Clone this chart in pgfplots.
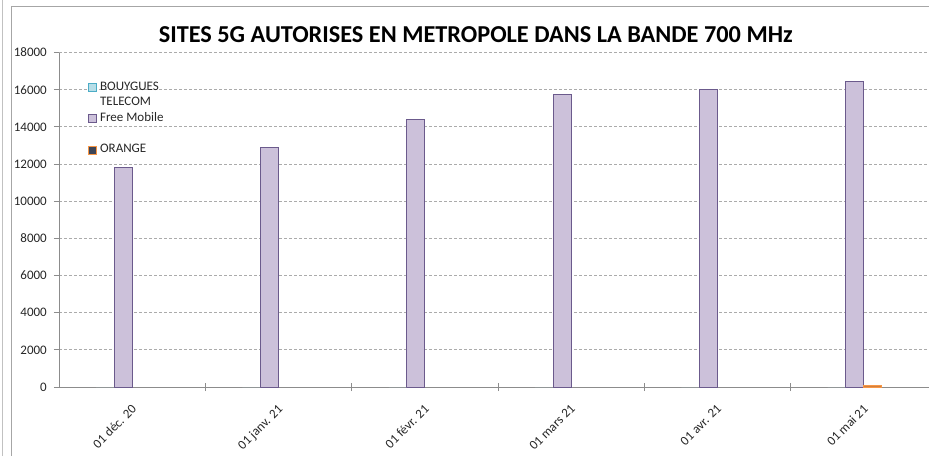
\documentclass[border=0pt]{standalone}
\usepackage{fontspec}
\setmainfont{Carlito}
\usepackage{pgfplots}
\pgfplotsset{compat=1.18}

\definecolor{freefill}{HTML}{CCC1DA}
\definecolor{freeedge}{HTML}{6B5A8C}
\definecolor{bygfill}{HTML}{B7DEE8}
\definecolor{bygedge}{HTML}{4BACC6}
\definecolor{orgfill}{HTML}{3D4556}
\definecolor{orgedge}{HTML}{F79646}
\definecolor{axisgray}{HTML}{8C8C8C}
\definecolor{gridgray}{HTML}{ABABAB}
\definecolor{framegray}{HTML}{A6A6A6}
\definecolor{labelgray}{HTML}{262626}

\pgfplotsset{
  sq legend/.style={legend image code/.code={\draw[##1] (0pt,-4pt) rectangle (8pt,4pt);}},
}

\begin{document}
\begin{tikzpicture}
\begin{axis}[
  scale only axis,
  width=870pt, height=334.5pt,
  xmin=-0.5, xmax=5.446,
  ymin=0, ymax=18000,
  axis x line*=bottom, axis y line*=left,
  axis line style={axisgray, line width=0.8pt},
  ytick={0,2000,...,18000},
  scaled y ticks=false,
  ymajorgrids,
  major grid style={gridgray, dash pattern=on 3pt off 2pt, line width=0.7pt},
  tick align=outside,
  major tick length=5pt,
  ytick style={axisgray, line width=0.8pt},
  xtick={0,...,5},
  xticklabels={01 déc. 20, 01 janv. 21, 01 févr. 21, 01 mars 21, 01 avr. 21, 01 mai 21},
  xtick style={draw=none},
  extra x ticks={0.5,1.5,2.5,3.5,4.5},
  extra x tick labels={},
  extra x tick style={xtick style={draw=axisgray, line width=0.8pt}, major tick length=8pt, tick align=center},
  /pgf/number format/1000 sep={},
  /pgf/number format/assume math mode=true,
  yticklabel style={font=\fontsize{13}{15}\selectfont, text=labelgray, anchor=east, inner sep=0pt, xshift=-7pt},
  xticklabel style={font=\fontsize{13}{15}\selectfont, text=labelgray, rotate=45, anchor=north east, inner sep=1pt, xshift=-8pt, yshift=-6pt},
  title={SITES 5G AUTORISES EN METROPOLE DANS LA BANDE 700 MHz},
  title style={at={(0.479,1.0105)}, anchor=base, font=\bfseries\fontsize{24.3}{27}\selectfont},
  sq legend,
  legend cell align=left,
  legend style={at={(0.0335,0.915)}, anchor=north west, draw=none, fill=none,
    font=\fontsize{13}{15}\selectfont, text=labelgray, inner sep=0pt,
    row sep=3.7pt, column sep=3pt,
    nodes={inner sep=0pt, text height=9pt, text depth=3pt}},
]
\addlegendimage{sq legend, fill=bygfill, draw=bygedge, line width=0.8pt}
\addlegendentry{BOUYGUES}
\addlegendimage{empty legend}
\addlegendentry{TELECOM}

\addplot[ybar, sq legend, bar width=18pt, bar shift=-9pt, fill=freefill, draw=freeedge, line width=0.8pt]
  coordinates {(0,11800) (1,12900) (2,14400) (3,15750) (4,16000) (5,16450)};
\addlegendentry{Free Mobile}

\addlegendimage{empty legend}
\addlegendentry{\mbox{}}

\addplot[ybar, bar width=18pt, bar shift=9pt, fill=orgedge!85!black, draw=orgedge, line width=0.8pt,
  legend image code/.code={\draw[fill=orgfill, draw=orgedge, line width=0.8pt] (0pt,-4pt) rectangle (8pt,4pt);}]
  coordinates {(5,80)};
\addlegendentry{ORANGE}

% Bouygues: no 700 MHz sites over the period
\addplot[ybar, forget plot, bar width=18pt, bar shift=-27pt, fill=bygfill, draw=none]
  coordinates {(0,0) (1,0) (2,0) (3,0) (4,0) (5,0)};
\end{axis}

\draw[framegray, line width=0.8pt] (-48pt,-69pt) -- (-48pt,381pt) -- (870pt,381pt);
\draw[framegray!70, line width=0.6pt] (-56.5pt,-69pt) -- (-56.5pt,387pt);
\pgfresetboundingbox
\useasboundingbox (-59pt,-69pt) rectangle (870pt,387pt);
\end{tikzpicture}
\end{document}
